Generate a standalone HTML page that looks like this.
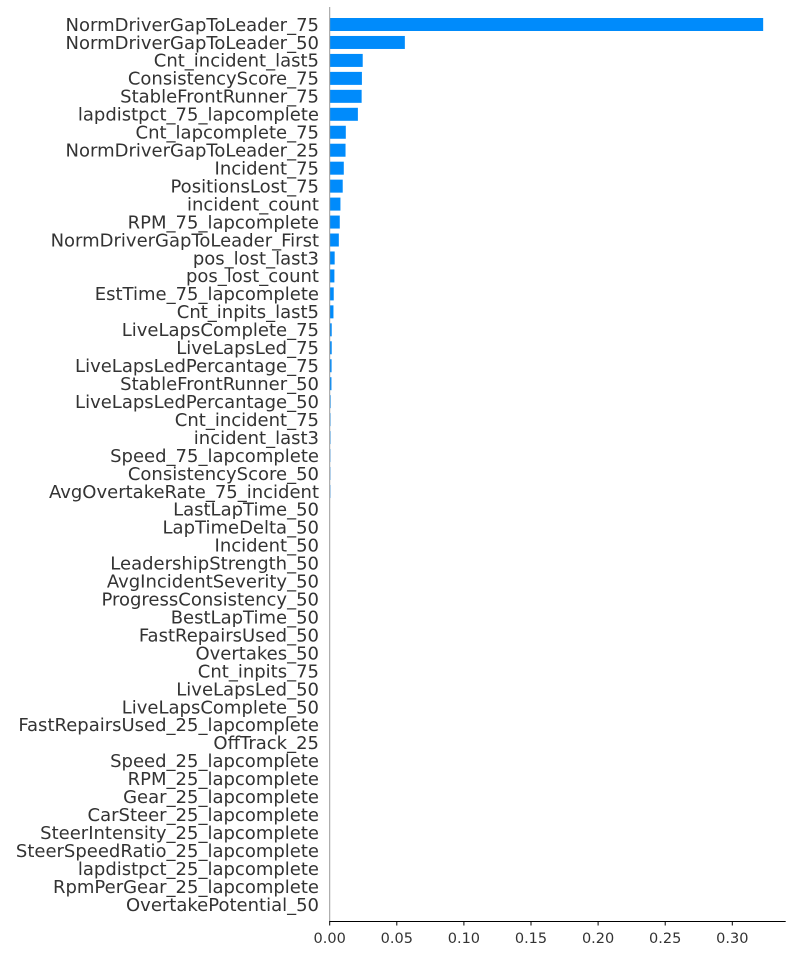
<!DOCTYPE html>
<html><head><meta charset="utf-8"><style>
body{margin:0;background:#fff;}
svg text{font-family:"DejaVu Sans","Liberation Sans",sans-serif;}
</style></head><body>
<svg id="chart" width="800" height="949" viewBox="0 0 800 949" xmlns="http://www.w3.org/2000/svg"></svg>
<script>
const features = ["NormDriverGapToLeader_75","NormDriverGapToLeader_50","Cnt_incident_last5","ConsistencyScore_75","StableFrontRunner_75","lapdistpct_75_lapcomplete","Cnt_lapcomplete_75","NormDriverGapToLeader_25","Incident_75","PositionsLost_75","incident_count","RPM_75_lapcomplete","NormDriverGapToLeader_First","pos_lost_last3","pos_lost_count","EstTime_75_lapcomplete","Cnt_inpits_last5","LiveLapsComplete_75","LiveLapsLed_75","LiveLapsLedPercantage_75","StableFrontRunner_50","LiveLapsLedPercantage_50","Cnt_incident_75","incident_last3","Speed_75_lapcomplete","ConsistencyScore_50","AvgOvertakeRate_75_incident","LastLapTime_50","LapTimeDelta_50","Incident_50","LeadershipStrength_50","AvgIncidentSeverity_50","ProgressConsistency_50","BestLapTime_50","FastRepairsUsed_50","Overtakes_50","Cnt_inpits_75","LiveLapsLed_50","LiveLapsComplete_50","FastRepairsUsed_25_lapcomplete","OffTrack_25","Speed_25_lapcomplete","RPM_25_lapcomplete","Gear_25_lapcomplete","CarSteer_25_lapcomplete","SteerIntensity_25_lapcomplete","SteerSpeedRatio_25_lapcomplete","lapdistpct_25_lapcomplete","RpmPerGear_25_lapcomplete","OvertakePotential_50"];
const values = [0.323,0.056,0.0246,0.024,0.0238,0.021,0.012,0.0118,0.0105,0.0097,0.008,0.0075,0.0068,0.0037,0.0035,0.003,0.0028,0.0015,0.0015,0.0014,0.0013,0.0007,0.0006,0.0006,0.0005,0.0005,0.0005,0.0002,0.0002,0.0002,0.0002,0.0002,0.0002,0.0002,0.0002,0.0001,0.0001,0.0001,0.0001,0.0001,0.0001,0,0,0,0,0,0,0,0,0];
const ticks = [0,0.05,0.10,0.15,0.20,0.25,0.30];
const tickLabels = ["0.00","0.05","0.10","0.15","0.20","0.25","0.30"];

const svg = document.getElementById('chart');
const NS = 'http://www.w3.org/2000/svg';
const x0 = 329.7, xs = 1342;
const xScale = v => x0 + v * xs;
const yScale = i => 24.5 + i * 17.96;
function mk(tag, attrs){const e=document.createElementNS(NS,tag);for(const k in attrs)e.setAttribute(k,attrs[k]);svg.appendChild(e);return e;}

features.forEach((f,i)=>{
  const y = yScale(i);
  const w = Math.max(0, xScale(values[i]) - x0);
  const r = mk('rect',{x:x0,y:y-6.5,width:w,height:13,fill:'#008bfb'});
  
  
  const t = mk('text',{x:319,y:y+6.3,'text-anchor':'end','font-size':'18',fill:'#333'});
  t.textContent = f;
  
  
});

const ls = mk('line',{x1:x0,y1:7,x2:x0,y2:921,stroke:'#999','stroke-width':1});


const bs = mk('line',{x1:x0-0.5,y1:921.5,x2:785.7,y2:921.5,stroke:'#000','stroke-width':1});



ticks.forEach((v,i)=>{
  const x = xScale(v);
  const tk = mk('line',{x1:x,y1:921.5,x2:x,y2:925.5,stroke:'#000','stroke-width':1});
  
  
  const tl = mk('text',{x:x,y:943,'text-anchor':'middle','font-size':'14.5',fill:'#333'});
  tl.textContent = tickLabels[i];
  
  
});
</script>
</body></html>
